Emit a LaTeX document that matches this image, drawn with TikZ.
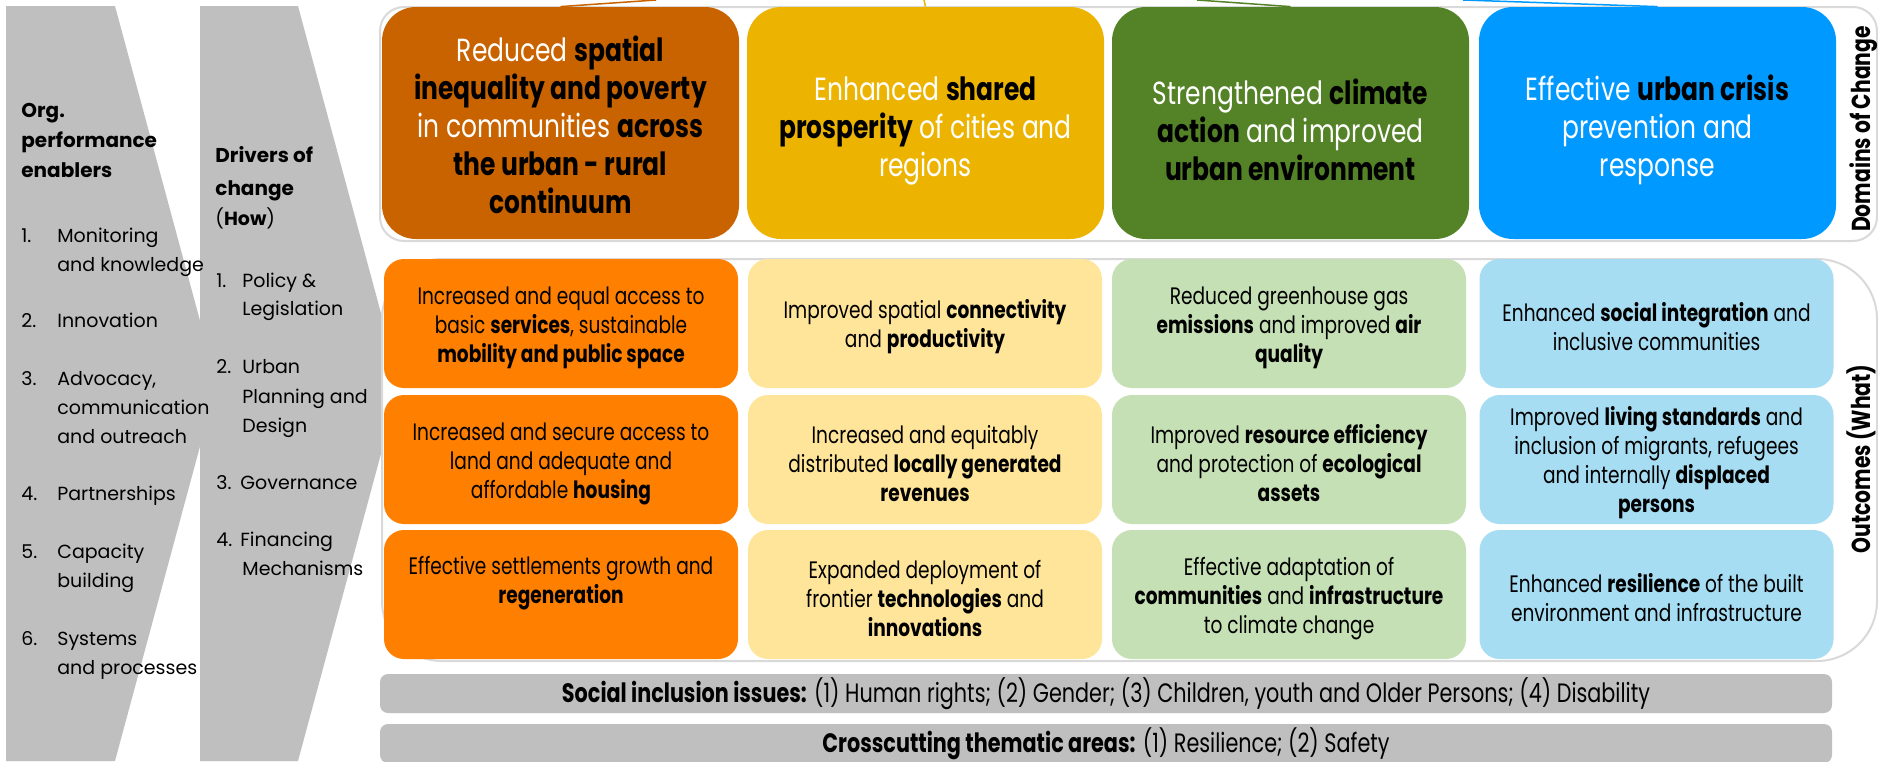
\documentclass[tikz,border=0pt]{standalone}
\usepackage{fontspec}
\setmainfont{Poppins}
\newfontfamily\gothic{Poppins}
\newfontfamily\futcond[FakeStretch=0.78]{Poppins}

\definecolor{chevgray}{HTML}{BFBFBF}
\definecolor{bargray}{HTML}{BFBFBF}
\definecolor{outlgray}{HTML}{D9D9D9}
\definecolor{domA}{HTML}{C96300}
\definecolor{domB}{HTML}{ECB400}
\definecolor{domC}{HTML}{548226}
\definecolor{domD}{HTML}{0099FF}
\definecolor{outA}{HTML}{FF8000}
\definecolor{outB}{HTML}{FFE599}
\definecolor{outC}{HTML}{C5E0B4}
\definecolor{outD}{HTML}{A6DDF3}

\newcommand{\dkb}[1]{\textbf{\textcolor{black}{#1}}}
\newcommand{\lift}[1]{\rule{0pt}{#1}}

\tikzset{
  chev/.style={fill=chevgray, draw=none},
  lft/.style={font=\gothic\fontsize{9.5}{14.5}\selectfont, anchor=base west, inner sep=0pt},
  lfthead/.style={lft, font=\gothic\bfseries\fontsize{10}{14.5}\selectfont},
  outl/.style={draw=outlgray, fill=white, line width=1pt},
  dombox/.style={rounded corners=17pt, minimum width=178.5pt, minimum height=116pt, align=center, text=white, inner sep=0pt, font=\futcond\fontsize{16}{19}\selectfont},
  outbox/.style={rounded corners=10pt, minimum width=177pt, minimum height=64.5pt, align=center, inner sep=0pt, font=\futcond\fontsize{11.9}{14.5}\selectfont},
  barbox/.style={fill=bargray, rounded corners=4pt, minimum width=726pt, minimum height=19.5pt, inner sep=0pt, font=\futcond\fontsize{13.3}{15}\selectfont},
  sidelbl/.style={rotate=90, inner sep=0pt, font=\futcond\bfseries\fontsize{13}{15}\selectfont},
  link/.style={line width=0.75pt}
}

\begin{document}
\begin{tikzpicture}[x=0.5pt,y=-0.5pt]
\useasboundingbox (0,0) rectangle (1878,761);

%Flechas
\fill[chev] (200,6) -- (298,6) -- (400,383.5) -- (298,761) -- (200,761) -- cycle;
\fill[chev] (6,6) -- (115,6) -- (217,383.5) -- (115,761) -- (6,761) -- cycle;

\node[lfthead] (orgA) at (21,117) {Org.};
\node[lfthead] (orgB) at (21,147) {performance};
\node[lfthead] (orgC) at (21,177) {enablers};
\node[lft] (en1a) at (21,242) {\makebox[18pt][l]{1.}Monitoring};
\node[lft] (en1b) at (57,271) {and knowledge};
\node[lft] (en2a) at (21,327) {\makebox[18pt][l]{2.}Innovation};
\node[lft] (en3a) at (21,385) {\makebox[18pt][l]{3.}Advocacy,};
\node[lft] (en3b) at (57,414) {communication};
\node[lft] (en3c) at (57,443) {and outreach};
\node[lft] (en4a) at (21,500) {\makebox[18pt][l]{4.}Partnerships};
\node[lft] (en5a) at (21,558) {\makebox[18pt][l]{5.}Capacity};
\node[lft] (en5b) at (57,587) {building};
\node[lft] (en6a) at (21,645) {\makebox[18pt][l]{6.}Systems};
\node[lft] (en6b) at (57,674) {and processes};

\node[lfthead] (drvA) at (215,162) {Drivers of};
\node[lfthead] (drvB) at (215,195) {change};
\node[lft] (drvC) at (215,225) {(\textbf{How})};
\node[lft] (dr1a) at (216,287) {\makebox[13pt][l]{1.}Policy \&};
\node[lft] (dr1b) at (242,315) {Legislation};
\node[lft] (dr2a) at (216,373) {\makebox[13pt][l]{2.}Urban};
\node[lft] (dr2b) at (242,403) {Planning and};
\node[lft] (dr2c) at (242,432) {Design};
\node[lft] (dr3a) at (216,489) {\makebox[12pt][l]{3.}Governance};
\node[lft] (dr4a) at (216,546) {\makebox[12pt][l]{4.}Financing};
\node[lft] (dr4b) at (242,575) {Mechanisms};

%Marcos
\draw[outl, rounded corners=12pt] (380,7) rectangle (1877,241);
\draw[outl, rounded corners=30pt] (382,259) rectangle (1877,661);

%Dominios
\node[dombox, fill=domA] (dom1) at (560.5,123) {\lift{15pt}Reduced \dkb{spatial}\\ \dkb{inequality and poverty}\\ in communities \dkb{across}\\ \dkb{the urban - rural}\\ \dkb{continuum}};
\node[dombox, fill=domB] (dom2) at (925.5,123) {\lift{20pt}Enhanced \dkb{shared}\\ \dkb{prosperity} of cities and\\ regions};
\node[dombox, fill=domC] (dom3) at (1290.5,123) {\lift{20pt}Strengthened \dkb{climate}\\ \dkb{action} and improved\\ \dkb{urban environment}};
\node[dombox, fill=domD] (dom4) at (1657.5,123) {\lift{20pt}Effective \dkb{urban crisis}\\ prevention and\\ response};
\node[sidelbl] (domlbl) at (1864,129) {Domains of Change};

\coordinate (up1) at (656,0);
\coordinate (up2) at (924,0);
\coordinate (up3) at (1197,0);
\coordinate (up4) at (1463,0);
\draw[link, domA] (dom1.north) -- (up1);
\draw[link, domB] (dom2.north) -- (up2);
\draw[link, domC] (dom3.north) -- (up3);
\draw[link, domD] (dom4.north) -- (up4);

%Resultados
\node[outbox, fill=outA] (o11) at (561,323.5) {\lift{12.9pt}Increased and equal access to\\ basic \textbf{services}, sustainable\\ \textbf{mobility and public space}};
\node[outbox, fill=outA] (o21) at (561,459.5) {\lift{12.9pt}Increased and secure access to\\ land and adequate and\\ affordable \textbf{housing}};
\node[outbox, fill=outA] (o31) at (561,594.5) {\lift{12.9pt}Effective settlements growth and\\ \textbf{regeneration}\\ \strut};
\node[outbox, fill=outB] (o12) at (925,323.5) {\lift{12.9pt}Improved spatial \textbf{connectivity}\\ and \textbf{productivity}};
\node[outbox, fill=outB] (o22) at (925,459.5) {\lift{12.9pt}Increased and equitably\\ distributed \textbf{locally generated}\\ \textbf{revenues}};
\node[outbox, fill=outB] (o32) at (925,594.5) {\lift{12.9pt}Expanded deployment of\\ frontier \textbf{technologies} and\\ \textbf{innovations}};
\node[outbox, fill=outC] (o13) at (1289,323.5) {\lift{12.9pt}Reduced greenhouse gas\\ \textbf{emissions} and improved \textbf{air}\\ \textbf{quality}};
\node[outbox, fill=outC] (o23) at (1289,459.5) {\lift{12.9pt}Improved \textbf{resource efficiency}\\ and protection of \textbf{ecological}\\ \textbf{assets}};
\node[outbox, fill=outC] (o33) at (1289,594.5) {\lift{12.9pt}Effective adaptation of\\ \textbf{communities} and \textbf{infrastructure}\\ to climate change};
\node[outbox, fill=outD] (o14) at (1656.5,323.5) {\lift{12.9pt}Enhanced \textbf{social integration} and\\ inclusive communities};
\node[outbox, fill=outD] (o24) at (1656.5,459.5) {\lift{12.9pt}Improved \textbf{living standards} and\\ inclusion of migrants, refugees\\ and internally \textbf{displaced}\\ \textbf{persons}};
\node[outbox, fill=outD] (o34) at (1656.5,594.5) {\lift{12.9pt}Enhanced \textbf{resilience} of the built\\ environment and infrastructure};
\node[sidelbl] (outlbl) at (1861,459) {Outcomes (What)};

%Barras
\node[barbox] (social) at (1106,693.5) {\textbf{Social inclusion issues:} (1) Human rights; (2) Gender; (3) Children, youth and Older Persons; (4) Disability};
\node[barbox] (cross) at (1106,743.5) {\textbf{Crosscutting thematic areas:} (1) Resilience; (2) Safety};
\end{tikzpicture}
\end{document}
